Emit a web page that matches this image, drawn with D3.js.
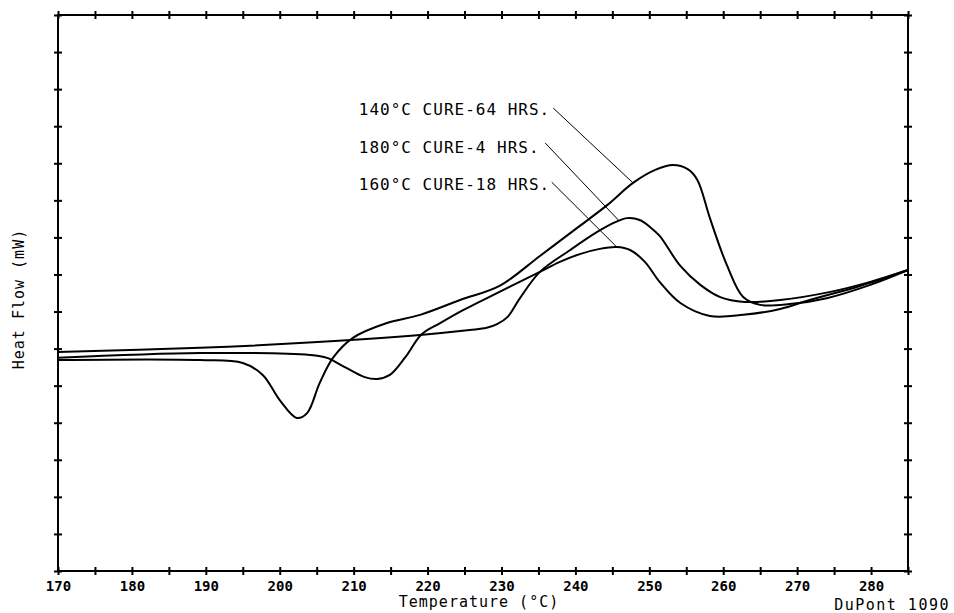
<!DOCTYPE html>
<html>
<head>
<meta charset="utf-8">
<script src="https://cdn.jsdelivr.net/npm/d3@7"></script>
<style>
  body { margin: 0; background: #fff; }
  text { font-family: "DejaVu Sans Mono", monospace; fill: #000; }
</style>
</head>
<body>
<div id="chart"></div>
<script>
// temperatures (°C) and heat flow (chart units, one per y tick)
const temp140 = [170, 189.2, 195.0, 197.7, 200.0, 202.3, 203.7, 205.4, 207.2, 209.9, 214.5, 219.0, 224.4, 229.8, 235.2, 240.6, 244.3, 247.8, 250.8, 253.2, 255.2, 256.5, 258.2, 260.5, 262.7, 265.0, 269.0, 274.0, 279.9, 285];
const flow140 = [5.69, 5.69, 5.61, 5.29, 4.61, 4.13, 4.26, 5.07, 5.75, 6.29, 6.69, 6.91, 7.31, 7.70, 8.50, 9.31, 9.87, 10.47, 10.82, 10.95, 10.84, 10.55, 9.52, 8.25, 7.39, 7.18, 7.20, 7.36, 7.72, 8.12];

const temp180 = [170, 189.2, 202.7, 219.0, 225.7, 228.0, 229.4, 230.8, 232.5, 235.2, 239.3, 242.9, 245.4, 247.0, 248.7, 250.1, 251.4, 254.2, 256.9, 259.6, 262.9, 267.7, 274.5, 279.9, 285];
const flow180 = [5.91, 6.02, 6.15, 6.37, 6.50, 6.56, 6.66, 6.85, 7.36, 8.07, 8.66, 9.14, 9.41, 9.52, 9.47, 9.28, 9.04, 8.23, 7.72, 7.39, 7.26, 7.31, 7.53, 7.80, 8.12];

const temp160 = [170, 189.2, 204.1, 206.4, 208.8, 211.5, 213.2, 214.9, 217.0, 219.2, 221.7, 224.8, 227.5, 235.2, 237.9, 240.6, 243.3, 245.6, 247.4, 249.4, 251.4, 254.2, 258.2, 262.7, 267.7, 271.7, 278.5, 285];
const flow160 = [5.75, 5.88, 5.83, 5.75, 5.50, 5.23, 5.18, 5.29, 5.77, 6.39, 6.69, 7.04, 7.31, 8.07, 8.34, 8.55, 8.69, 8.74, 8.66, 8.34, 7.80, 7.23, 6.88, 6.91, 7.07, 7.31, 7.69, 8.12];

const labels = ["140°C CURE-64 HRS.", "180°C CURE-4 HRS.", "160°C CURE-18 HRS."];
const labelAt = [[210.7, 12.3], [210.7, 11.28], [210.7, 10.28]];   // text start (temp, flow)
const leaderFrom = [[237.0, 12.49], [235.9, 11.55], [236.8, 10.49]];
const leaderTo = [[247.8, 10.47], [245.9, 9.45], [245.6, 8.74]];

const xTicks = d3.range(170, 286, 5);
const xLabels = d3.range(170, 281, 10);

const width = 954, height = 613;
const margin = { top: 15, right: 46, bottom: 42, left: 58 };

const x = d3.scaleLinear().domain([170, 285]).range([margin.left, width - margin.right]);
const y = d3.scaleLinear().domain([0, 15]).range([height - margin.bottom, margin.top]);

const svg = d3.select("#chart").append("svg")
    .attr("width", width)
    .attr("height", height);

// frame
svg.append("rect")
    .attr("x", x(170)).attr("y", y(15))
    .attr("width", x(285) - x(170)).attr("height", y(0) - y(15))
    .attr("fill", "none").attr("stroke", "#000").attr("stroke-width", 2);

// cross ticks on all four sides
function crossX(g) {
    g.select(".domain").remove();
    g.selectAll(".tick line").attr("y1", -4).attr("y2", 4).attr("stroke", "#000").attr("stroke-width", 2);
}
function crossY(g) {
    g.select(".domain").remove();
    g.selectAll(".tick line").attr("x1", -4).attr("x2", 4).attr("stroke", "#000").attr("stroke-width", 2);
}

svg.append("g")
    .attr("transform", "translate(0," + y(0) + ")")
    .call(d3.axisBottom(x).tickValues(xTicks).tickSize(4)
        .tickFormat(d => xLabels.includes(d) ? d : ""))
    .call(crossX)
    .call(g => g.selectAll(".tick text")
        .attr("y", 20).attr("dy", 0)
        .style("font-family", "'DejaVu Sans Mono', monospace")
        .style("font-size", "14px").style("font-weight", "bold"));

svg.append("g")
    .attr("transform", "translate(0," + y(15) + ")")
    .call(d3.axisTop(x).tickValues(xTicks).tickSize(4).tickFormat(""))
    .call(crossX);

svg.append("g")
    .attr("transform", "translate(" + x(170) + ",0)")
    .call(d3.axisLeft(y).ticks(15).tickSize(4).tickFormat(""))
    .call(crossY);

svg.append("g")
    .attr("transform", "translate(" + x(285) + ",0)")
    .call(d3.axisRight(y).ticks(15).tickSize(4).tickFormat(""))
    .call(crossY);

// curves
const line = d3.line()
    .x(d => x(d[0]))
    .y(d => y(d[1]))
    .curve(d3.curveCatmullRom.alpha(0.5));

[[temp140, flow140], [temp180, flow180], [temp160, flow160]].forEach(s => {
    svg.append("path")
        .datum(d3.zip(s[0], s[1]))
        .attr("d", line)
        .attr("fill", "none")
        .attr("stroke", "#000")
        .attr("stroke-width", 2);
});

// annotations
labels.forEach((t, i) => {
    svg.append("text")
        .attr("x", x(labelAt[i][0]))
        .attr("y", y(labelAt[i][1]))
        .style("font-size", "16px")
        .style("letter-spacing", "1px")
        .text(t);
    svg.append("line")
        .attr("x1", x(leaderFrom[i][0])).attr("y1", y(leaderFrom[i][1]))
        .attr("x2", x(leaderTo[i][0])).attr("y2", y(leaderTo[i][1]))
        .attr("stroke", "#000").attr("stroke-width", 1);
});

// axis titles
svg.append("text")
    .attr("transform", "translate(24," + (y(7.5) + 6) + ") rotate(-90)")
    .attr("text-anchor", "middle")
    .style("font-size", "15px")
    .style("letter-spacing", "1px")
    .text("Heat Flow (mW)");

svg.append("text")
    .attr("x", x(227.5) - 4)
    .attr("y", 607)
    .attr("text-anchor", "middle")
    .style("font-size", "15px")
    .style("letter-spacing", "1px")
    .text("Temperature (°C)");

svg.append("text")
    .attr("x", 950)
    .attr("y", 610)
    .attr("text-anchor", "end")
    .style("font-size", "15px")
    .style("letter-spacing", "1.5px")
    .text("DuPont 1090");
</script>
</body>
</html>
